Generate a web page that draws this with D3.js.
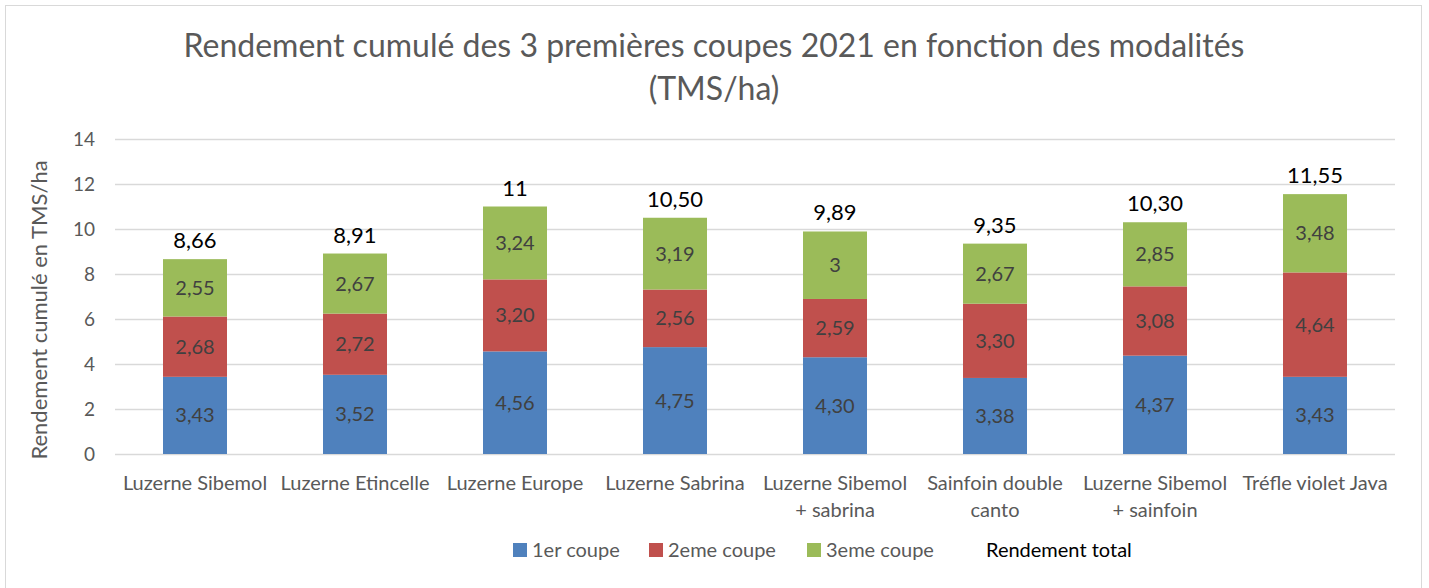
<!DOCTYPE html>
<html>
<head>
<meta charset="utf-8">
<script src="https://cdn.jsdelivr.net/npm/d3@7"></script>
<style>
  body { margin: 0; background: #fff; }
  svg { font-family: Lato, "Open Sans", sans-serif; }
</style>
</head>
<body>
<div id="chart"></div>
<script>
// categories and series (TMS/ha)
const categories = [
  ["Luzerne Sibemol"],
  ["Luzerne Etincelle"],
  ["Luzerne Europe"],
  ["Luzerne Sabrina"],
  ["Luzerne Sibemol", "+ sabrina"],
  ["Sainfoin double", "canto"],
  ["Luzerne Sibemol", "+ sainfoin"],
  ["Tréfle violet Java"]
];
const coupe1 = [3.43, 3.52, 4.56, 4.75, 4.30, 3.38, 4.37, 3.43];
const coupe2 = [2.68, 2.72, 3.20, 2.56, 2.59, 3.30, 3.08, 4.64];
const coupe3 = [2.55, 2.67, 3.24, 3.19, 3.00, 2.67, 2.85, 3.48];
const seriesNames = ["1er coupe", "2eme coupe", "3eme coupe"];
const colors = ["#4F81BD", "#C0504D", "#9BBB59"];
const yTicks = [0, 2, 4, 6, 8, 10, 12, 14];

const W = 1429, H = 588;
const margin = { top: 139, right: 34, bottom: 134, left: 115 };
const width = W - margin.left - margin.right;
const height = H - margin.top - margin.bottom;

const fmt = v => {
  const r = Math.round(v * 100) / 100;
  return Number.isInteger(r) ? String(r) : r.toFixed(2).replace(".", ",");
};

const svg = d3.select("#chart").append("svg")
  .attr("width", W).attr("height", H);

// chart border
svg.append("rect")
  .attr("x", 5.5).attr("y", 5.5)
  .attr("width", 1416).attr("height", 600)
  .attr("fill", "#fff").attr("stroke", "#d9d9d9");

svg.append("text")
  .attr("x", 714).attr("y", 57)
  .attr("text-anchor", "middle")
  .attr("font-size", 32).attr("fill", "#595959")
  .text("Rendement cumulé des 3 premières coupes 2021 en fonction des modalités");
svg.append("text")
  .attr("x", 714).attr("y", 100)
  .attr("text-anchor", "middle")
  .attr("font-size", 32).attr("fill", "#595959")
  .text("(TMS/ha)");

const g = svg.append("g")
  .attr("transform", `translate(${margin.left},${margin.top})`);

const x = d3.scaleBand()
  .domain(d3.range(categories.length))
  .range([0, width])
  .paddingInner(0.6).paddingOuter(0.3);
const y = d3.scaleLinear().domain([0, 14]).range([height, 0]);

// gridlines
g.append("g").selectAll("line").data(yTicks).join("line")
  .attr("x1", 0).attr("x2", width)
  .attr("y1", d => Math.round(y(d)) + 0.5).attr("y2", d => Math.round(y(d)) + 0.5)
  .attr("stroke", "#d9d9d9").attr("stroke-width", 1.5);

// y tick labels
g.append("g").selectAll("text").data(yTicks).join("text")
  .attr("x", -20).attr("y", d => y(d))
  .attr("dy", "0.35em").attr("text-anchor", "end")
  .attr("font-size", 19).attr("fill", "#595959")
  .text(d => d);

// stacked bars
const rows = categories.map((c, i) => ({ i, c1: coupe1[i], c2: coupe2[i], c3: coupe3[i] }));
const stack = d3.stack().keys(["c1", "c2", "c3"])(rows);

const layer = g.append("g").selectAll("g").data(stack).join("g")
  .attr("fill", (d, k) => colors[k]);
layer.selectAll("rect").data(d => d).join("rect")
  .attr("x", d => x(d.data.i))
  .attr("width", x.bandwidth())
  .attr("y", d => y(d[1]))
  .attr("height", d => y(d[0]) - y(d[1]));

layer.selectAll("text").data(d => d.map(s => ({ s, key: d.key }))).join("text")
  .attr("x", d => x(d.s.data.i) + x.bandwidth() / 2)
  .attr("y", d => y((d.s[0] + d.s[1]) / 2))
  .attr("dy", "0.35em").attr("text-anchor", "middle")
  .attr("font-size", 20).attr("fill", "#404040")
  .text(d => fmt(d.s.data[d.key]));

// totals
g.append("g").selectAll("text").data(rows).join("text")
  .attr("x", d => x(d.i) + x.bandwidth() / 2)
  .attr("y", d => y(d.c1 + d.c2 + d.c3) - 11)
  .attr("text-anchor", "middle")
  .attr("font-size", 22).attr("fill", "#000")
  .text(d => fmt(d.c1 + d.c2 + d.c3));

// category labels
const cat = g.append("g").selectAll("text").data(categories).join("text")
  .attr("text-anchor", "middle")
  .attr("font-size", 20).attr("fill", "#595959")
  .attr("transform", (d, i) => `translate(${x(i) + x.bandwidth() / 2},${height + 36})`);
cat.selectAll("tspan").data(d => d).join("tspan")
  .attr("x", 0).attr("dy", (d, j) => j === 0 ? 0 : 27)
  .text(d => d);

// y axis title
svg.append("text")
  .attr("transform", `translate(47,310) rotate(-90)`)
  .attr("text-anchor", "middle")
  .attr("font-size", 22).attr("fill", "#595959")
  .text("Rendement cumulé en TMS/ha");

// legend
const legend = svg.append("g");
const legX = [513, 649, 807];
seriesNames.forEach((n, k) => {
  legend.append("rect")
    .attr("x", legX[k]).attr("y", 543).attr("width", 14).attr("height", 14)
    .attr("fill", colors[k]);
  legend.append("text")
    .attr("x", legX[k] + 19).attr("y", 557)
    .attr("font-size", 20).attr("fill", "#595959")
    .text(n);
});
legend.append("text")
  .attr("x", 986).attr("y", 557)
  .attr("font-size", 20).attr("fill", "#000")
  .text("Rendement total");
</script>
</body>
</html>
